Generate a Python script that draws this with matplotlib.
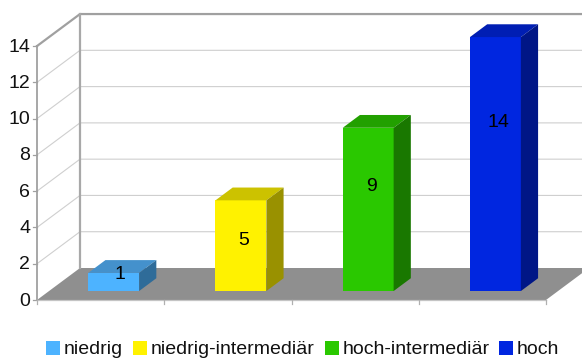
import matplotlib
matplotlib.use("Agg")
import matplotlib.pyplot as plt
from matplotlib.patches import Polygon, Rectangle

plt.rcParams['font.family'] = ['Liberation Sans', 'DejaVu Sans']

categories = ["niedrig", "niedrig-intermediär", "hoch-intermediär", "hoch"]
values = [1, 5, 9, 14]
y_ticks = [0, 2, 4, 6, 8, 10, 12, 14]

front_colors = ["#4DB3FF", "#FFF200", "#2AC800", "#0026E0"]
top_colors = ["#4491CC", "#CCC200", "#22A000", "#001EB3"]
side_colors = ["#2F6C99", "#999100", "#197800", "#001686"]

# projection of the fake 3d box, in pixels
X0, Y0 = 37, 300
CAT_W = 127.25
UNIT = 18.14
DEPTH_X, DEPTH_Y = 43, -32
BAR_W = 0.40  # share of a category


def proj(cat, val, depth=0.0):
    return (X0 + cat * CAT_W + depth * DEPTH_X, Y0 - val * UNIT + depth * DEPTH_Y)


fig = plt.figure(figsize=(5.82, 3.58), dpi=100)
ax = fig.add_axes([0, 0, 1, 1])
ax.set_xlim(0, 582)
ax.set_ylim(358, 0)
ax.axis("off")

n = len(categories)
top_val = y_ticks[-1]

# floor
ax.add_patch(Polygon([proj(0, 0), proj(n, 0), proj(n, 0, 1), proj(0, 0, 1)],
                     fc="#8F8F8F", ec="none", zorder=1))

# grid lines on side wall and back wall
for v in y_ticks[1:-1]:
    a, b, c = proj(0, v), proj(0, v, 1), proj(n, v, 1)
    ax.plot([a[0], b[0], c[0]], [a[1], b[1], c[1]], color="#CFCFCF", lw=0.8, zorder=1)

# wall edges
a, b, c = proj(0, top_val), proj(0, top_val, 1), proj(n, top_val, 1)
ax.plot([a[0], b[0], c[0]], [a[1], b[1], c[1]], color="#A0A0A0", lw=1.6, zorder=2)
a, b = proj(0, 0), proj(0, top_val)
ax.plot([a[0], b[0]], [a[1], b[1]], color="#A0A0A0", lw=1.3, zorder=2)
a, b = proj(0, 0, 1), proj(0, top_val, 1)
ax.plot([a[0], b[0]], [a[1], b[1]], color="#A8A8A8", lw=1.6, zorder=2)

# ticks
for v in y_ticks:
    x, y = proj(0, v)
    ax.plot([x - 4, x], [y, y], color="#A0A0A0", lw=0.9, zorder=2)
    ax.text(x - 7, y + 1, str(v), ha="right", va="center", fontsize=14, color="#111111")
a, b = proj(0, 0), proj(n, 0)
ax.plot([a[0], b[0]], [a[1], b[1]], color="#C4C4C4", lw=0.9, zorder=2)
for i in range(n + 1):
    x, y = proj(i, 0)
    ax.plot([x, x], [y, y + 4], color="#B0B0B0", lw=0.9, zorder=2)

# bars
label_lift = [1.0, 0.57, 0.65, 0.67]  # value label height as share of the bar
label_shift = [7.5, 3.5, 4.5, 4.5]
for i, v in enumerate(values):
    left = i + 0.5 - BAR_W / 2 + 0.008
    right = left + BAR_W
    d0, d1 = 0.28, 0.68
    ax.add_patch(Polygon([proj(left, 0, d0), proj(right, 0, d0), proj(right, v, d0), proj(left, v, d0)],
                         fc=front_colors[i], ec="none", zorder=3))
    ax.add_patch(Polygon([proj(left, v, d0), proj(right, v, d0), proj(right, v, d1), proj(left, v, d1)],
                         fc=top_colors[i], ec="none", zorder=3))
    ax.add_patch(Polygon([proj(right, 0, d0), proj(right, 0, d1), proj(right, v, d1), proj(right, v, d0)],
                         fc=side_colors[i], ec="none", zorder=3))
    x, y = proj(i + 0.5, v * label_lift[i], d0)
    ax.text(x + label_shift[i], y + 1.5, str(v), ha="center", va="center", fontsize=14,
            color="black", zorder=4)

# legend
swatch_x = [46, 133, 325, 499]
for x, name, col in zip(swatch_x, categories, front_colors):
    ax.add_patch(Rectangle((x, 341), 14, 14, fc=col, ec="none", zorder=3))
    ax.text(x + 18, 349.5, name, ha="left", va="center", fontsize=14, color="#111111")

fig.savefig("out.png", dpi=100)
